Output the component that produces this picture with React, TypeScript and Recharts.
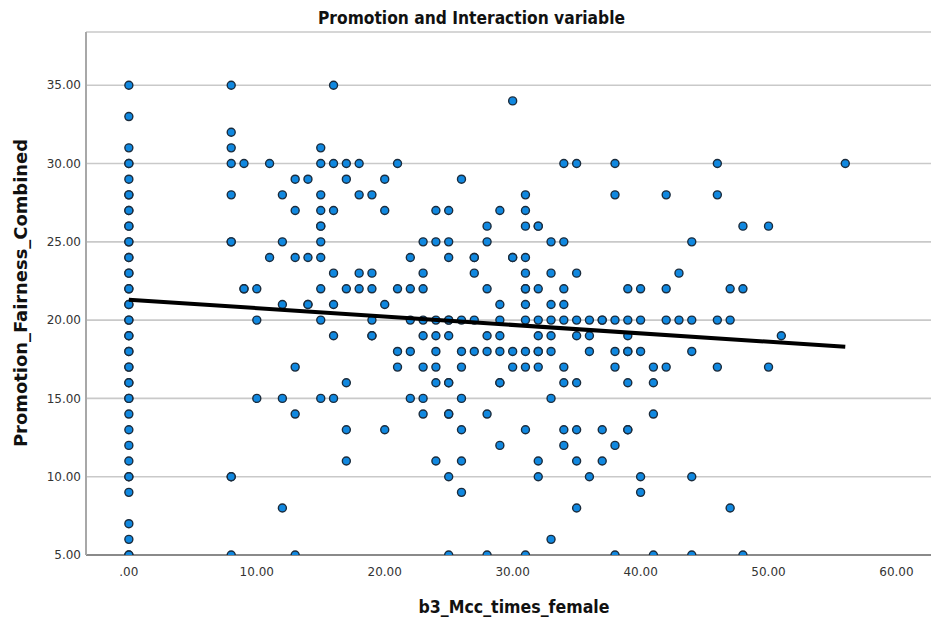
import { ScatterChart, Scatter, XAxis, YAxis, CartesianGrid } from "recharts"

// fairness score -> Mcc values seen on that row
const fairnessLevels = [35, 34, 33, 32, 31, 30, 29, 28, 27, 26, 25, 24, 23, 22, 21, 20, 19, 18, 17, 16, 15, 14, 13, 12, 11, 10, 9, 8, 7, 6, 5]
const mccByLevel = [
  [0, 8, 16],
  [30],
  [0],
  [8],
  [0, 8, 15],
  [0, 8, 9, 11, 15, 16, 17, 18, 21, 34, 35, 38, 46, 56],
  [0, 13, 14, 17, 20, 26],
  [0, 8, 12, 15, 18, 19, 31, 38, 42, 46],
  [0, 13, 15, 16, 20, 24, 25, 29, 31],
  [0, 15, 28, 31, 32, 48, 50],
  [0, 8, 12, 15, 23, 24, 25, 28, 33, 34, 44],
  [0, 11, 13, 14, 15, 22, 25, 27, 30, 31],
  [0, 16, 18, 19, 23, 27, 31, 33, 35, 43],
  [0, 9, 10, 15, 17, 18, 19, 21, 22, 23, 28, 31, 32, 34, 39, 40, 42, 47, 48],
  [0, 12, 14, 16, 20, 29, 31, 33, 34],
  [0, 10, 15, 19, 22, 23, 24, 25, 26, 27, 29, 31, 32, 33, 34, 35, 36, 37, 38, 39, 40, 42, 43, 44, 46, 47],
  [0, 16, 19, 23, 24, 25, 28, 29, 32, 33, 35, 36, 39, 51],
  [0, 21, 22, 24, 26, 27, 28, 29, 30, 31, 32, 33, 36, 38, 39, 40, 44],
  [0, 13, 21, 23, 24, 26, 30, 31, 32, 34, 38, 41, 42, 46, 50],
  [0, 17, 24, 25, 29, 34, 35, 39, 41],
  [0, 10, 12, 15, 16, 22, 23, 26, 33],
  [0, 13, 23, 25, 28, 41],
  [0, 17, 20, 26, 31, 34, 35, 37, 39],
  [0, 29, 34, 38],
  [0, 17, 24, 26, 32, 35, 37],
  [0, 8, 25, 32, 36, 40, 44],
  [0, 26, 40],
  [12, 35, 47],
  [0],
  [0, 33],
  [0, 8, 13, 25, 28, 31, 38, 41, 44, 48],
]
// rows where the x=0 marker is visibly overplotted (darker ring)
const repeatedAtZero = [30, 28, 27, 26, 25, 24, 23, 22, 21, 20, 19, 18, 17, 16, 15, 10, 5]
// other repeated cases: [mcc, fairness]
const repeatedMccX = [9, 8, 8, 14, 15, 19, 27, 30, 32, 37, 39, 29, 25, 25, 39, 32, 31, 25]
const repeatedFairY = [22, 25, 10, 21, 26, 19, 24, 24, 26, 20, 13, 16, 16, 14, 18, 18, 22, 20]

const fitX = [0, 56]
const fitY = [21.3, 18.3]
const xTicks = [0, 10, 20, 30, 40, 50, 60]
const yTicks = [5, 10, 15, 20, 25, 30, 35]

const points = [
  ...fairnessLevels.flatMap((y, i) => mccByLevel[i].map((x) => ({ x, y }))),
  ...repeatedAtZero.map((y) => ({ x: 0, y })),
  ...repeatedMccX.map((x, i) => ({ x, y: repeatedFairY[i] })),
]
const fitLine = fitX.map((x, i) => ({ x, y: fitY[i] }))

const W = 931
const H = 621
const FONT = "'DejaVu Sans', sans-serif"

function Dot({ cx, cy }: any) {
  return <circle cx={cx} cy={cy} r={4} fill="#1088e0" stroke="#1c2c3c" strokeWidth={1.4} />
}

export default function App() {
  return (
    <div style={{ position: "absolute", left: 0, top: 0, width: W, height: H, background: "#fff" }}>
      <ScatterChart width={W} height={H} margin={{ top: 32, right: 0, bottom: 0, left: 0 }}>
        <CartesianGrid horizontal vertical={false} stroke="#c9c9c9" strokeWidth={1.6} />
        <XAxis
          type="number"
          dataKey="x"
          domain={[-3.35, 62.7]}
          ticks={xTicks}
          allowDataOverflow
          height={66}
          axisLine={{ stroke: "#707070", strokeWidth: 1.5 }}
          tickLine={false}
          tickMargin={6}
          tick={{ fontFamily: FONT, fontSize: 12, fill: "#333" }}
          tickFormatter={(v: number) => (v === 0 ? ".00" : v.toFixed(2))}
        />
        <YAxis
          type="number"
          dataKey="y"
          domain={[5, 38.4]}
          ticks={yTicks}
          allowDataOverflow
          width={86}
          axisLine={{ stroke: "#a8a8a8", strokeWidth: 2 }}
          tickLine={false}
          tickMargin={-1}
          tick={{ fontFamily: FONT, fontSize: 12, fill: "#333" }}
          tickFormatter={(v: number) => v.toFixed(2)}
        />
        <Scatter data={points} shape={Dot} isAnimationActive={false} />
        <Scatter
          data={fitLine}
          line={{ stroke: "#000", strokeWidth: 4 }}
          shape={() => <g />}
          isAnimationActive={false}
        />
      </ScatterChart>
      <svg width={W} height={H} style={{ position: "absolute", left: 0, top: 0, pointerEvents: "none" }}>
        <text
          x={471.5}
          y={24}
          textAnchor="middle"
          fontFamily={FONT}
          fontWeight="bold"
          fontSize={18}
          textLength={307}
          lengthAdjust="spacingAndGlyphs"
          fill="#111"
        >
          Promotion and Interaction variable
        </text>
        <text
          x={514}
          y={613}
          textAnchor="middle"
          fontFamily={FONT}
          fontWeight="bold"
          fontSize={18}
          textLength={191}
          lengthAdjust="spacingAndGlyphs"
          fill="#111"
        >
          b3_Mcc_times_female
        </text>
        <text
          transform="translate(27,293) rotate(-90)"
          textAnchor="middle"
          fontFamily={FONT}
          fontWeight="bold"
          fontSize={17}
          textLength={308}
          lengthAdjust="spacingAndGlyphs"
          fill="#111"
        >
          Promotion_Fairness_Combined
        </text>
      </svg>
    </div>
  )
}
